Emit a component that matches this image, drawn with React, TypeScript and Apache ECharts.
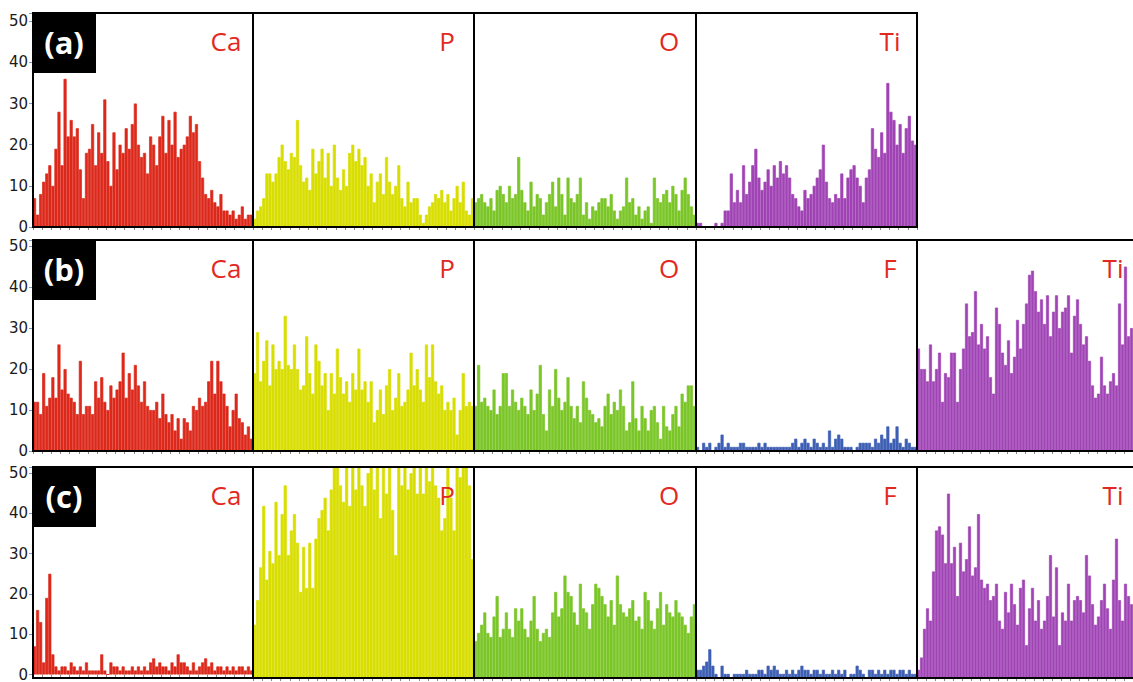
import React, { useEffect, useRef } from "react";
import * as echarts from "echarts";

// ---------- data (counts per bin) ----------
const bins: string[] = Array.from({ length: 72 }, (_, i) => String(i + 1));
const yTickValues = [0, 10, 20, 30, 40, 50];

// Row (a)
const caA = [7, 3, 8, 11, 13, 15, 10, 19, 28, 15, 36, 22, 26, 22, 24, 14, 7, 18, 19, 25, 15, 23, 18, 31, 16, 10, 23, 14, 20, 18, 24, 19, 25, 30, 20, 17, 18, 13, 22, 20, 15, 22, 27, 18, 26, 20, 28, 17, 19, 20, 22, 27, 23, 25, 16, 12, 8, 7, 9, 6, 5, 8, 4, 4, 3, 4, 2, 3, 5, 2, 3, 3];
const pA = [2, 4, 5, 7, 13, 13, 11, 13, 17, 20, 16, 14, 18, 17, 26, 15, 11, 12, 9, 19, 13, 16, 19, 12, 18, 10, 20, 12, 9, 14, 10, 18, 20, 16, 19, 15, 17, 10, 13, 6, 11, 13, 8, 17, 11, 8, 10, 15, 7, 5, 11, 6, 7, 7, 3, 1, 3, 5, 6, 8, 7, 9, 6, 8, 4, 7, 10, 6, 11, 4, 3, 7];
const oA = [6, 7, 8, 6, 5, 7, 4, 9, 10, 8, 6, 10, 7, 8, 17, 9, 6, 4, 11, 5, 8, 7, 3, 6, 8, 11, 5, 12, 8, 3, 12, 7, 6, 8, 12, 3, 6, 2, 5, 4, 6, 7, 7, 5, 8, 4, 2, 4, 5, 12, 6, 7, 3, 5, 2, 4, 5, 1, 12, 7, 6, 8, 9, 6, 10, 8, 4, 9, 12, 8, 5, 3];
const tiA = [1, 1, 0, 0, 0, 0, 1, 0, 1, 4, 4, 13, 6, 9, 6, 15, 8, 11, 15, 19, 12, 9, 11, 14, 10, 15, 12, 16, 13, 15, 12, 8, 7, 5, 4, 9, 7, 8, 10, 12, 14, 20, 11, 7, 6, 8, 7, 13, 7, 12, 14, 15, 12, 10, 6, 12, 14, 24, 19, 17, 23, 18, 35, 28, 26, 20, 25, 18, 24, 27, 21, 20];

// Row (b)
const caB = [12, 12, 9, 19, 11, 13, 18, 13, 26, 15, 20, 14, 13, 12, 9, 22, 9, 11, 11, 9, 17, 13, 18, 12, 10, 16, 13, 15, 17, 24, 13, 19, 15, 21, 16, 12, 17, 11, 10, 10, 12, 8, 14, 9, 7, 9, 5, 8, 3, 8, 7, 5, 11, 10, 13, 11, 12, 17, 22, 14, 22, 17, 14, 11, 6, 10, 14, 8, 7, 4, 6, 3];
const pB = [19, 29, 17, 22, 27, 16, 26, 20, 22, 20, 33, 21, 20, 26, 20, 15, 16, 28, 19, 14, 26, 22, 16, 19, 10, 19, 14, 25, 18, 14, 17, 12, 19, 15, 25, 15, 17, 12, 17, 7, 10, 15, 9, 16, 20, 10, 13, 19, 11, 12, 15, 24, 16, 20, 15, 12, 26, 18, 26, 17, 14, 16, 10, 12, 10, 13, 4, 10, 19, 11, 12, 11];
const oB = [11, 21, 12, 13, 11, 10, 15, 9, 11, 19, 19, 11, 15, 12, 10, 13, 11, 9, 15, 10, 14, 21, 9, 5, 15, 11, 20, 13, 10, 12, 18, 11, 8, 11, 7, 17, 13, 10, 9, 7, 8, 6, 11, 14, 9, 12, 10, 15, 11, 5, 7, 17, 8, 5, 11, 8, 5, 10, 11, 7, 3, 11, 6, 5, 9, 11, 6, 14, 12, 16, 16, 11];
const fB = [1, 0, 2, 1, 2, 0, 1, 2, 4, 1, 2, 1, 1, 1, 2, 2, 1, 1, 1, 1, 2, 1, 2, 1, 1, 1, 1, 1, 1, 1, 1, 2, 3, 1, 2, 3, 2, 1, 3, 2, 1, 2, 1, 5, 1, 3, 4, 3, 1, 1, 1, 0, 1, 2, 2, 2, 2, 1, 3, 2, 4, 3, 6, 2, 3, 6, 2, 1, 3, 2, 1, 1];
const tiB = [25, 20, 20, 17, 26, 17, 20, 24, 12, 19, 18, 24, 24, 12, 20, 25, 36, 28, 29, 39, 26, 31, 25, 28, 18, 14, 35, 31, 24, 21, 27, 19, 23, 32, 25, 31, 36, 43, 44, 39, 34, 37, 31, 38, 28, 34, 38, 30, 34, 35, 38, 24, 33, 37, 31, 26, 28, 22, 16, 13, 14, 23, 16, 14, 17, 19, 16, 36, 26, 45, 28, 30];

// Row (c)
const caC = [7, 16, 13, 3, 19, 25, 5, 2, 1, 2, 2, 1, 3, 2, 1, 2, 1, 3, 1, 1, 1, 1, 5, 1, 0, 3, 2, 2, 1, 2, 1, 1, 2, 1, 2, 1, 2, 1, 3, 4, 2, 3, 2, 2, 1, 3, 2, 5, 3, 3, 2, 1, 3, 1, 2, 3, 4, 2, 3, 1, 2, 2, 1, 2, 1, 2, 1, 2, 2, 1, 2, 1];
const pC = [13, 19, 27, 42, 24, 31, 28, 43, 30, 40, 47, 30, 36, 40, 33, 21, 32, 22, 33, 22, 34, 39, 41, 44, 36, 46, 52, 52, 47, 43, 52, 42, 52, 46, 52, 47, 42, 50, 52, 46, 52, 39, 52, 45, 52, 41, 30, 52, 47, 52, 46, 50, 52, 45, 52, 45, 52, 48, 52, 47, 44, 36, 39, 52, 44, 36, 52, 49, 52, 52, 47, 29];
const oC = [9, 11, 13, 16, 11, 10, 15, 20, 10, 12, 16, 12, 10, 17, 14, 17, 12, 10, 14, 20, 12, 9, 11, 12, 10, 16, 21, 15, 17, 25, 21, 20, 16, 13, 23, 17, 16, 12, 18, 23, 22, 20, 18, 15, 19, 13, 25, 18, 16, 15, 17, 19, 14, 15, 12, 21, 19, 14, 12, 17, 21, 13, 18, 16, 15, 19, 16, 15, 13, 11, 15, 18];
const fC = [2, 2, 3, 4, 7, 3, 1, 0, 3, 1, 1, 0, 1, 1, 1, 1, 2, 1, 1, 1, 2, 2, 1, 3, 2, 3, 2, 1, 1, 2, 1, 2, 1, 2, 3, 2, 2, 1, 2, 2, 1, 2, 1, 1, 2, 1, 2, 1, 2, 0, 1, 1, 3, 2, 1, 0, 2, 2, 1, 2, 1, 2, 1, 2, 2, 1, 2, 2, 1, 2, 1, 1];
const tiC = [2, 5, 12, 17, 14, 26, 36, 37, 35, 28, 45, 28, 32, 20, 33, 26, 29, 37, 25, 27, 40, 24, 22, 23, 19, 20, 23, 14, 12, 21, 16, 23, 18, 13, 22, 24, 8, 17, 22, 14, 19, 12, 14, 20, 30, 15, 27, 8, 16, 14, 23, 14, 19, 20, 19, 16, 30, 25, 18, 13, 15, 19, 23, 17, 12, 24, 34, 19, 14, 23, 20, 18];

// ---------- styling / layout ----------
const COLORS: Record<string, string> = {
  Ca: "#dc291b",
  P: "#d9de00",
  O: "#7bc628",
  F: "#3d5fb3",
  Ti: "#a043b5",
};
const LABEL_RED = "#e2291f";
const colEdges = [33, 253, 474, 696, 917, 1140];

type Panel = { el: string; data: number[] };
type Row = { tag: string; top: number; height: number; max: number; panels: Panel[] };

const rows: Row[] = [
  {
    tag: "(a)", top: 13, height: 214, max: 52,
    panels: [
      { el: "Ca", data: caA },
      { el: "P", data: pA },
      { el: "O", data: oA },
      { el: "Ti", data: tiA },
    ],
  },
  {
    tag: "(b)", top: 240, height: 211, max: 51.5,
    panels: [
      { el: "Ca", data: caB },
      { el: "P", data: pB },
      { el: "O", data: oB },
      { el: "F", data: fB },
      { el: "Ti", data: tiB },
    ],
  },
  {
    tag: "(c)", top: 467, height: 211, max: 51.5,
    panels: [
      { el: "Ca", data: caC },
      { el: "P", data: pC },
      { el: "O", data: oC },
      { el: "F", data: fC },
      { el: "Ti", data: tiC },
    ],
  },
];

function buildOption() {
  const grid: any[] = [];
  const xAxis: any[] = [];
  const yAxis: any[] = [];
  const series: any[] = [];
  const graphic: any[] = [];
  let gi = 0;
  rows.forEach((row) => {
    row.panels.forEach((p, pi) => {
      const left = colEdges[pi];
      const width = colEdges[pi + 1] - colEdges[pi];
      grid.push({ left, top: row.top, width, height: row.height, containLabel: false });
      xAxis.push({
        type: "category",
        gridIndex: gi,
        data: bins,
        boundaryGap: true,
        axisLine: { show: false },
        axisTick: { show: true, interval: 2, length: 3, lineStyle: { color: "#888", width: 1 } },
        axisLabel: { show: false },
        splitLine: { show: false },
      });
      yAxis.push({
        type: "value",
        gridIndex: gi,
        min: 0,
        max: row.max,
        interval: 10,
        show: pi === 0,
        axisLine: { show: false },
        axisTick: { show: true, length: 4, lineStyle: { color: "#7f9bbf" } },
        axisLabel: {
          show: true,
          margin: 5,
          fontSize: 15,
          fontFamily: "DejaVu Sans",
          color: "#1a1a1a",
          formatter: (v: number) => (yTickValues.indexOf(v) >= 0 ? String(v) : ""),
        },
        splitLine: { show: false },
      });
      series.push({
        type: "bar",
        xAxisIndex: gi,
        yAxisIndex: gi,
        data: p.data,
        barCategoryGap: "0%",
        barGap: "0%",
        clip: true,
        itemStyle: { color: COLORS[p.el], borderColor: COLORS[p.el], borderWidth: 0.7 },
        emphasis: { disabled: true },
        silent: true,
      });
      // panel frame
      graphic.push({
        type: "rect",
        z: 50,
        silent: true,
        shape: { x: left, y: row.top, width, height: row.height },
        style: { fill: "none", stroke: "#000", lineWidth: 2 },
      });
      // element label
      const right = colEdges[pi + 1];
      graphic.push({
        type: "text",
        z: 60,
        silent: true,
        x: right - 27,
        y: row.top + 28,
        style: {
          text: p.el,
          fill: LABEL_RED,
          font: '26px "Open Sans", "Noto Sans", sans-serif',
          align: "center",
          verticalAlign: "middle",
          textAlign: "center",
          textVerticalAlign: "middle",
        },
      });
      gi++;
    });
    // tag box
    graphic.push({
      type: "rect",
      z: 70,
      silent: true,
      shape: { x: 33, y: row.top, width: 63, height: 60 },
      style: { fill: "#000" },
    });
    graphic.push({
      type: "text",
      z: 80,
      silent: true,
      x: 64,
      y: row.top + 29,
      style: {
        text: row.tag,
        fill: "#fff",
        font: 'bold 31px "Open Sans", "Noto Sans", sans-serif',
        align: "center",
        verticalAlign: "middle",
        textAlign: "center",
        textVerticalAlign: "middle",
      },
    });
  });
  return {
    animation: false,
    backgroundColor: "#fff",
    grid,
    xAxis,
    yAxis,
    series,
    graphic: { elements: graphic },
  };
}

export default function App() {
  const ref = useRef<HTMLDivElement>(null);
  useEffect(() => {
    if (!ref.current) return;
    const chart = echarts.init(ref.current, undefined, { renderer: "svg" });
    chart.setOption(buildOption() as any);
    return () => chart.dispose();
  }, []);
  return (
    <div
      ref={ref}
      style={{ position: "absolute", left: 0, top: 0, width: 1133, height: 682 }}
    />
  );
}
